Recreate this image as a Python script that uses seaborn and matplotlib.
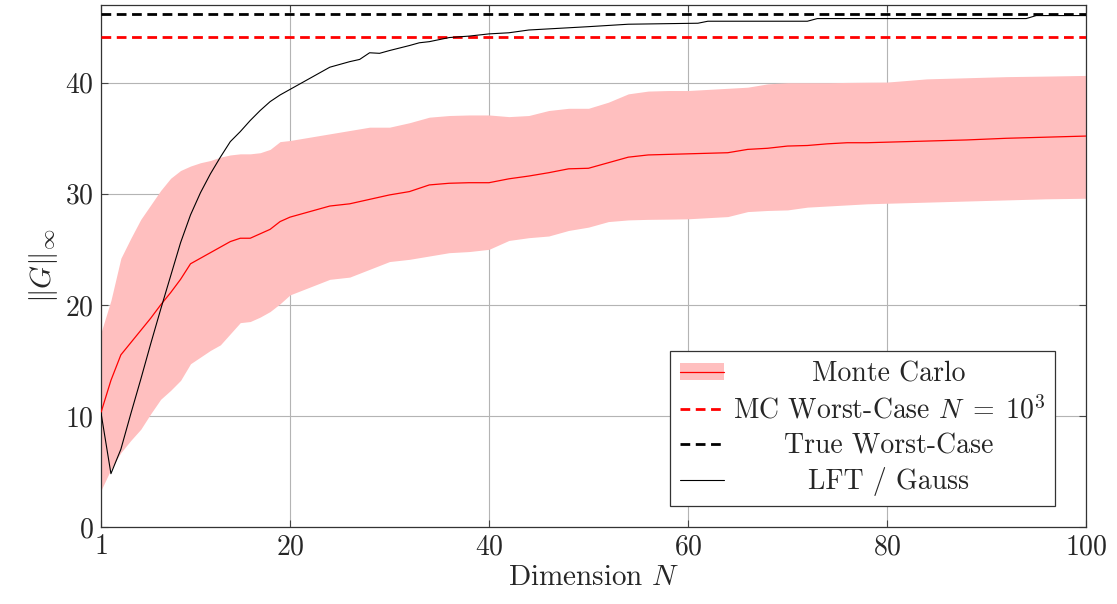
import seaborn as sns
import numpy as np
import matplotlib
matplotlib.use("Agg")
from matplotlib import pyplot as plt
from matplotlib.patches import Patch
from matplotlib.lines import Line2D

# Monte Carlo runs over dimension N
mc_n = [1, 2, 3, 4, 5, 6, 7, 8, 9, 10, 11, 12, 13, 14, 15, 16, 17, 18, 19, 20,
        22, 24, 26, 28, 30, 32, 34, 36, 38, 40, 42, 44, 46, 48, 50, 52, 54, 56, 58, 60,
        62, 64, 66, 68, 70, 72, 74, 76, 78, 80, 84, 88, 92, 96, 100]
mc_mean = [10.3, 13.2, 15.5, 16.6, 17.7, 18.8, 20.0, 21.1, 22.3, 23.7, 24.2, 24.7, 25.2, 25.7, 26.0, 26.0, 26.4, 26.8, 27.5, 27.9,
           28.4, 28.9, 29.1, 29.5, 29.9, 30.2, 30.8, 30.95, 31.0, 31.0, 31.35, 31.6, 31.9, 32.25, 32.3, 32.8, 33.3, 33.5, 33.55, 33.6,
           33.65, 33.7, 34.0, 34.1, 34.3, 34.35, 34.5, 34.6, 34.6, 34.65, 34.75, 34.85, 35.0, 35.1, 35.2]
mc_low = [3.3, 5.2, 6.7, 7.8, 8.8, 10.2, 11.5, 12.3, 13.2, 14.7, 15.3, 15.9, 16.4, 17.4, 18.4, 18.5, 18.9, 19.4, 20.1, 20.9,
          21.6, 22.3, 22.5, 23.2, 23.9, 24.1, 24.4, 24.7, 24.8, 25.0, 25.8, 26.05, 26.2, 26.7, 27.0, 27.5, 27.65, 27.7, 27.72, 27.75,
          27.85, 27.95, 28.4, 28.5, 28.55, 28.8, 28.9, 29.0, 29.1, 29.15, 29.25, 29.35, 29.45, 29.55, 29.6]
mc_high = [17.5, 20.4, 24.2, 26.0, 27.7, 29.0, 30.3, 31.4, 32.1, 32.5, 32.8, 33.0, 33.3, 33.5, 33.6, 33.6, 33.7, 34.0, 34.7, 34.8,
           35.1, 35.4, 35.7, 36.0, 36.0, 36.4, 36.9, 37.05, 37.1, 37.1, 36.95, 37.05, 37.5, 37.7, 37.7, 38.25, 39.0, 39.25, 39.3, 39.3,
           39.4, 39.5, 39.6, 39.9, 40.0, 40.0, 40.0, 40.03, 40.05, 40.06, 40.35, 40.45, 40.55, 40.6, 40.66]

# LFT / Gauss bound
lft_n = [1, 2, 3, 4, 5, 6, 7, 8, 9, 10, 11, 12, 13, 14, 15, 16, 17, 18, 19, 20,
         22, 24, 26, 27, 28, 29, 30, 32, 33, 34, 36, 38, 40, 42, 44, 46, 48, 50, 54, 61,
         62, 72, 73, 94, 95, 100]
lft_val = [10.3, 4.8, 7.0, 10.2, 13.3, 16.5, 19.6, 22.6, 25.6, 28.1, 30.1, 31.8, 33.3, 34.7, 35.6, 36.6, 37.5, 38.3, 38.9, 39.4,
           40.4, 41.4, 41.9, 42.1, 42.7, 42.65, 42.9, 43.35, 43.6, 43.7, 44.07, 44.2, 44.4, 44.5, 44.75, 44.85, 44.95, 45.05, 45.27, 45.36,
           45.54, 45.54, 45.78, 45.78, 46.05, 46.05]

mc_worst = 44.1
true_worst = 46.15

sns.set_style("ticks")
plt.rcParams["font.family"] = ["cmr10", "DejaVu Serif"]
plt.rcParams["mathtext.fontset"] = "cm"
plt.rcParams["axes.formatter.use_mathtext"] = True

DPI = 100
fig = plt.figure(figsize=(11.17, 6.04), dpi=DPI)
ax = fig.add_axes([0.0904, 0.1275, 0.8818, 0.8642])

pink = "#ffbfbf"
dash = (0, (3.5, 2.0))
ax.fill_between(mc_n, mc_low, mc_high, color=pink, linewidth=0, zorder=2)
sns.lineplot(x=mc_n, y=mc_mean, ax=ax, color="red", linewidth=0.9, zorder=3)
ax.axhline(mc_worst, color="red", linestyle=dash, linewidth=2.0, zorder=4)
ax.axhline(true_worst, color="black", linestyle=dash, linewidth=2.0, zorder=4)
sns.lineplot(x=lft_n, y=lft_val, ax=ax, color="black", linewidth=0.8, zorder=5)

ax.set_xlim(1, 100)
ax.set_ylim(0, 47)
ax.set_xticks([1, 20, 40, 60, 80, 100])
ax.set_yticks([0, 10, 20, 30, 40])
ax.grid(True, color="#b4b4b4", linewidth=0.8, zorder=1)
ax.set_axisbelow(True)
ax.tick_params(direction="in", top=True, right=True, length=5, width=0.8,
               color="#444444", labelsize=20, pad=5)
for s in ax.spines.values():
    s.set_color("#333333")
    s.set_linewidth(0.9)

ax.set_xlabel("Dimension $N$", fontsize=21, labelpad=3)
ax.set_ylabel(r"$\|G\|_\infty$", fontsize=21, labelpad=4)

handles = [
    (Patch(facecolor=pink, edgecolor="none"), Line2D([], [], color="red", linewidth=0.9)),
    Line2D([], [], color="red", linestyle=dash, linewidth=2.0),
    Line2D([], [], color="black", linestyle=dash, linewidth=2.0),
    Line2D([], [], color="black", linewidth=0.8),
]
labels = ["Monte Carlo", r"MC Worst-Case $N\;=\;10^3$", "True Worst-Case", "LFT / Gauss"]
leg = ax.legend(handles, labels, loc="lower right", bbox_to_anchor=(0.9685, 0.04),
                borderaxespad=0, fontsize=20, frameon=True, fancybox=False,
                edgecolor="#333333", framealpha=1, handlelength=1.6, handleheight=0.55,
                handletextpad=0.3, labelspacing=0.3, borderpad=0.35)
leg.get_frame().set_linewidth(0.9)

# centre the legend texts in their column
fig.canvas.draw()
renderer = fig.canvas.get_renderer()
widths = [t.get_window_extent(renderer).width for t in leg.get_texts()]
wmax = max(widths)
for t, w in zip(leg.get_texts(), widths):
    t.set_position(((wmax - w) / 2, 0))

fig.savefig("out.png", dpi=DPI)
